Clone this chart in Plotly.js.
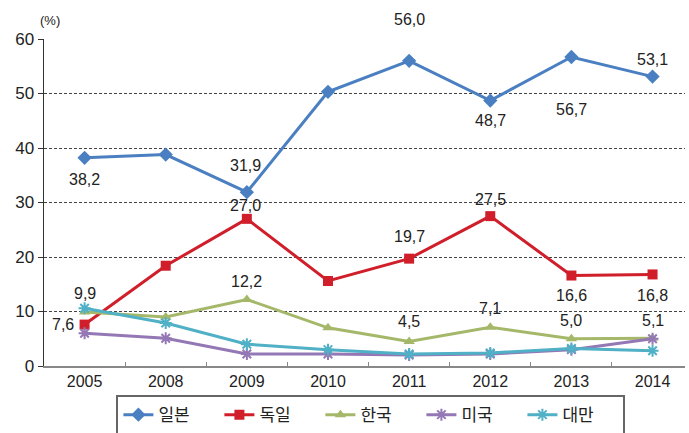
<!DOCTYPE html>
<html>
<head>
<meta charset="utf-8">
<script src="https://cdn.plot.ly/plotly-3.0.1.min.js"></script>
<style>html,body{margin:0;padding:0;background:#fff;}#chart{width:689px;height:433px;}</style>
</head>
<body>
<div id="chart"></div>
<script>
// ---- data ----
var years = ['2005', '2008', '2009', '2010', '2011', '2012', '2013', '2014'];
var japan   = [38.2, 38.8, 31.9, 50.3, 56.0, 48.7, 56.7, 53.1];
var germany = [7.6, 18.4, 27.0, 15.6, 19.7, 27.5, 16.6, 16.8];
var korea   = [9.9, 9.0, 12.2, 7.0, 4.5, 7.1, 5.0, 5.1];
var usa     = [6.0, 5.1, 2.2, 2.2, 2.0, 2.2, 3.0, 5.0];
var taiwan  = [10.6, 7.9, 4.0, 3.0, 2.2, 2.4, 3.2, 2.8];
var seriesNames = ['일본', '독일', '한국', '미국', '대만'];
var yTicks = [0, 10, 20, 30, 40, 50, 60];

// which points carry a value label (index -> [xshift, yshift]) : styling only
var labelPlacement = {
  '일본': {0: [0, -22], 2: [-1, 27], 4: [0, 41], 5: [0, -20], 6: [0, -53], 7: [0, 17]},
  '독일': {0: [-22, 0], 2: [-1, 13], 4: [0, 22], 5: [0, 17], 6: [0, -20], 7: [0, -21]},
  '한국': {0: [0, 19], 2: [0, 18], 4: [0, 20], 5: [0, 19], 6: [0, 18], 7: [0, 18]}
};

var allValues = [japan, germany, korea, usa, taiwan];
var colors = ['#4a7fc1', '#d01f2a', '#a5b86a', '#9478b5', '#4fb0c6'];
var symbols = ['diamond', 'square', 'triangle-up', 'asterisk-open', 'asterisk-open'];
var sizes = [11, 10, 10, 10, 10];

var FONT = 'Liberation Sans, Arial, "Noto Sans CJK KR", sans-serif';

var traces = allValues.map(function (vals, i) {
  var isOpen = symbols[i].indexOf('open') >= 0;
  return {
    type: 'scatter',
    mode: 'lines+markers',
    name: seriesNames[i],
    x: years,
    y: vals,
    line: {color: colors[i], width: 3},
    marker: {
      symbol: symbols[i],
      size: sizes[i],
      color: colors[i],
      line: {color: colors[i], width: isOpen ? 2 : 0}
    },
    cliponaxis: false
  };
});

var annotations = [];
allValues.forEach(function (vals, i) {
  var place = labelPlacement[seriesNames[i]];
  if (!place) return;
  Object.keys(place).forEach(function (k) {
    var idx = +k;
    annotations.push({
      x: idx, y: vals[idx], xref: 'x', yref: 'y',
      text: vals[idx].toFixed(1).replace('.', ','),
      showarrow: false,
      xshift: place[k][0], yshift: place[k][1],
      font: {family: FONT, size: 16, color: '#222'}
    });
  });
});
annotations.push({
  xref: 'paper', yref: 'paper', x: -0.01, y: 1.0, xanchor: 'left', yanchor: 'bottom',
  yshift: 9,
  text: '(%)', showarrow: false,
  font: {family: FONT, size: 13, color: '#222'}
});

var layout = {
  width: 689, height: 433,
  margin: {l: 44, r: 4, t: 39, b: 67, autoexpand: false},
  paper_bgcolor: '#fff', plot_bgcolor: '#fff',
  showlegend: true,
  legend: {
    orientation: 'h',
    x: 0.51, xanchor: 'center',
    y: -0.089, yanchor: 'top',
    bordercolor: '#666', borderwidth: 2,
    font: {family: FONT, size: 17, color: '#222'},
    entrywidth: 56,
    itemwidth: 30,
    tracegroupgap: 0
  },
  xaxis: {
    type: 'category',
    categoryorder: 'array', categoryarray: years,
    range: [-0.5, 7.4],
    showgrid: false,
    showline: true, linecolor: '#888', linewidth: 1.5,
    ticks: 'inside', ticklen: 4, tickcolor: '#888', tickwidth: 1,
    tickson: 'boundaries',
    tickfont: {family: FONT, size: 16, color: '#222'},
    zeroline: false,
    fixedrange: true
  },
  yaxis: {
    range: [0, 60],
    tickvals: yTicks,
    ticktext: yTicks.map(String),
    showgrid: true, gridcolor: '#444', griddash: '3px,2px', gridwidth: 1,
    showline: true, linecolor: '#333', linewidth: 1.5,
    ticks: 'outside', ticklen: 5, tickcolor: '#333',
    tickfont: {family: FONT, size: 17, color: '#222'},
    zeroline: false,
    fixedrange: true
  },
  annotations: annotations
};

Plotly.newPlot('chart', traces, layout, {displayModeBar: false, staticPlot: true});
</script>
</body>
</html>
